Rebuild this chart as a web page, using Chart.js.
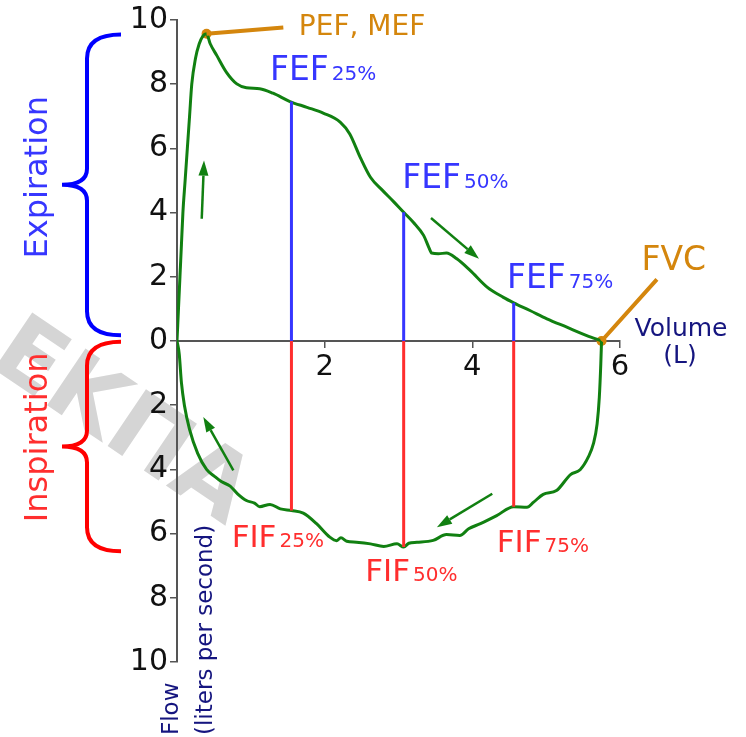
<!DOCTYPE html>
<html>
<head>
<meta charset="utf-8">
<script src="https://cdn.jsdelivr.net/npm/chart.js@4/dist/chart.umd.min.js"></script>
<style>
  body { margin: 0; background: #fff; }
  canvas { display: block; }
</style>
</head>
<body>
<canvas id="grafica" width="746" height="737"></canvas>
<script>
// volume in litres, flow in litres per second (expiration positive, inspiration negative)
const expVolume = [0, 0.02, 0.04, 0.06, 0.08, 0.11, 0.14, 0.17, 0.2, 0.25, 0.3, 0.35, 0.4,
  0.45, 0.54, 0.67, 0.81, 0.94, 1.12, 1.3, 1.53, 1.76, 1.98, 2.21, 2.34, 2.48, 2.62, 2.78, 2.93,
  3.07, 3.2, 3.34, 3.41, 3.45, 3.54, 3.65, 3.79, 3.97, 4.2, 4.42, 4.56, 4.78, 5.01, 5.28, 5.55, 5.75];
const expFlow = [0, 1, 2, 3, 4, 5, 6, 7, 8, 8.8, 9.25, 9.5, 9.57,
  9.26, 8.89, 8.37, 8.01, 7.89, 7.86, 7.72, 7.46, 7.28, 7.1, 6.82, 6.45, 5.73, 5.1, 4.7, 4.35,
  4.01, 3.7, 3.29, 2.92, 2.74, 2.72, 2.74, 2.56, 2.2, 1.68, 1.36, 1.19, 0.95, 0.69, 0.43, 0.17, 0];

const inspVolume = [0, 0.03, 0.06, 0.1, 0.17, 0.28, 0.4, 0.5, 0.6, 0.72, 0.82, 0.94, 1.05, 1.12,
  1.26, 1.4, 1.55, 1.71, 1.89, 2.07, 2.16, 2.22, 2.3, 2.43, 2.62, 2.8, 2.98, 3.07, 3.14, 3.25,
  3.47, 3.65, 3.83, 3.95, 4.11, 4.33, 4.56, 4.74, 4.83, 4.96, 5.14, 5.33, 5.46, 5.57, 5.64,
  5.69, 5.72, 5.74, 5.75];
const inspFlow = [0, -0.4, -1.3, -2.0, -2.75, -3.5, -4.0, -4.2, -4.38, -4.52, -4.76, -4.97, -5.05, -5.16,
  -5.09, -5.23, -5.28, -5.36, -5.69, -6.11, -6.22, -6.13, -6.24, -6.27, -6.32, -6.4, -6.32, -6.42, -6.3, -6.27,
  -6.21, -6.03, -6.06, -5.85, -5.69, -5.44, -5.16, -5.18, -5.02, -4.78, -4.66, -4.16, -4.01, -3.62, -3.2,
  -2.58, -1.75, -0.71, 0];

// FEF / FIF markers at 25%, 50%, 75%
const markVolume = [1.55, 3.07, 4.56];
const fefFlow = [7.46, 4.01, 1.19];
const fifFlow = [-5.28, -6.42, -5.16];
const markNames = ['25%', '50%', '75%'];

const pef = { volume: 0.4, flow: 9.57 };
const fvc = { volume: 5.75, flow: 0 };

const xTicks = [0, 2, 4, 6];
const yTicks = [-10, -8, -6, -4, -2, 0, 2, 4, 6, 8, 10];

const GREEN = '#118011';
const BLUE = '#3636ff';
const RED = '#ff2e2e';
const ORANGE = '#d4860d';
const NAVY = '#15157f';
const FONT = '"DejaVu Sans"';

function pts(xs, ys) {
  return xs.map((x, i) => ({ x: x, y: ys[i] }));
}

function splitLines(xs, ys) {
  const out = [];
  xs.forEach((x, i) => {
    out.push({ x: x, y: 0 }, { x: x, y: ys[i] }, { x: x, y: null });
  });
  return out;
}

// annotation anchors in data units (volume, flow)
const fefLabels = [[1.26, 8.14], [3.05, 4.77], [4.47, 1.66]];
const fifLabels = [[0.74, -6.42], [2.55, -7.49], [4.33, -6.58]];
const arrows = [
  [0.335, 3.81, 0.366, 5.62],
  [3.44, 3.83, 4.09, 2.56],
  [0.763, -4.03, 0.356, -2.37],
  [4.27, -4.76, 3.52, -5.8]
];

function subLabel(ctx, x, y, big, small, size, color) {
  ctx.fillStyle = color;
  ctx.textAlign = 'left';
  ctx.textBaseline = 'alphabetic';
  ctx.font = size + 'px ' + FONT;
  ctx.fillText(big, x, y);
  const w = ctx.measureText(big).width;
  ctx.font = '20px ' + FONT;
  ctx.fillText(small, x + w + 3, y);
}

function drawArrow(ctx, x1, y1, x2, y2) {
  const a = Math.atan2(y2 - y1, x2 - x1);
  const hl = 15, hw = 5;
  const bx = x2 - hl * Math.cos(a), by = y2 - hl * Math.sin(a);
  ctx.strokeStyle = GREEN;
  ctx.fillStyle = GREEN;
  ctx.lineWidth = 2.5;
  ctx.beginPath();
  ctx.moveTo(x1, y1);
  ctx.lineTo(bx, by);
  ctx.stroke();
  ctx.beginPath();
  ctx.moveTo(x2, y2);
  ctx.lineTo(bx + hw * Math.sin(a), by - hw * Math.cos(a));
  ctx.lineTo(bx - hw * Math.sin(a), by + hw * Math.cos(a));
  ctx.closePath();
  ctx.fill();
}

function drawBrace(ctx, yTop, yBot, color) {
  const xe = 121, xv = 87, xt = 62;
  const ym = (yTop + yBot) / 2;
  ctx.strokeStyle = color;
  ctx.lineWidth = 4;
  ctx.beginPath();
  ctx.moveTo(xe, yTop);
  ctx.quadraticCurveTo(xv, yTop, xv, yTop + 24);
  ctx.lineTo(xv, ym - 16);
  ctx.quadraticCurveTo(xv, ym, xt, ym);
  ctx.quadraticCurveTo(xv, ym, xv, ym + 16);
  ctx.lineTo(xv, yBot - 24);
  ctx.quadraticCurveTo(xv, yBot, xe, yBot);
  ctx.stroke();
}

function rotText(ctx, text, x, y, font, color, align) {
  ctx.save();
  ctx.translate(x, y);
  ctx.rotate(-Math.PI / 2);
  ctx.font = font;
  ctx.fillStyle = color;
  ctx.textAlign = align;
  ctx.textBaseline = 'alphabetic';
  ctx.fillText(text, 0, 0);
  ctx.restore();
}

const watermark = {
  id: 'watermark',
  beforeDraw(chart) {
    const ctx = chart.ctx;
    ctx.save();
    ctx.translate(120, 425);
    ctx.rotate(34 * Math.PI / 180);
    ctx.font = 'bold 94px ' + FONT;
    ctx.fillStyle = '#d5d5d5';
    ctx.textAlign = 'center';
    ctx.textBaseline = 'middle';
    ctx.fillText('ΕΚΠΑ', 0, 0);
    ctx.restore();
  }
};

const notes = {
  id: 'notes',
  afterDatasetsDraw(chart) {
    const ctx = chart.ctx;
    const sx = chart.scales.x, sy = chart.scales.y;
    const px = v => sx.getPixelForValue(v);
    const py = v => sy.getPixelForValue(v);
    ctx.save();

    fefLabels.forEach((p, i) => subLabel(ctx, px(p[0]), py(p[1]), 'FEF', markNames[i], 33, BLUE));
    fifLabels.forEach((p, i) => subLabel(ctx, px(p[0]), py(p[1]), 'FIF', markNames[i], 31, RED));

    ctx.fillStyle = ORANGE;
    ctx.textAlign = 'left';
    ctx.font = '28px ' + FONT;
    ctx.fillText('PEF, MEF', px(1.65), py(9.52));
    ctx.font = '33px ' + FONT;
    ctx.fillText('FVC', px(6.29), py(2.2));

    ctx.fillStyle = NAVY;
    ctx.textAlign = 'center';
    ctx.font = '25px ' + FONT;
    ctx.fillText('Volume', 681, py(0.15));
    ctx.fillText('(L)', 680, py(-0.7));

    rotText(ctx, 'Flow', 178, 735, '23px ' + FONT, NAVY, 'left');
    rotText(ctx, '(liters per second)', 212, 735, '23px ' + FONT, NAVY, 'left');

    arrows.forEach(a => drawArrow(ctx, px(a[0]), py(a[1]), px(a[2]), py(a[3])));

    drawBrace(ctx, py(9.55), py(0.18), '#0000ff');
    drawBrace(ctx, py(-0.02), py(-6.55), '#ff0000');
    rotText(ctx, 'Expiration', 47, py(5.1), '32px ' + FONT, BLUE, 'center');
    rotText(ctx, 'Inspiration', 47, py(-3.0), '32px ' + FONT, RED, 'center');

    ctx.restore();
  }
};

const ctx = document.getElementById('grafica').getContext('2d');
const grafica = new Chart(ctx, {
  type: 'scatter',
  data: {
    datasets: [
      {
        data: splitLines(markVolume, fefFlow),
        showLine: true, spanGaps: false,
        borderColor: BLUE, borderWidth: 3, pointRadius: 0
      },
      {
        data: splitLines(markVolume, fifFlow),
        showLine: true, spanGaps: false,
        borderColor: RED, borderWidth: 3, pointRadius: 0
      },
      {
        data: [{ x: pef.volume, y: pef.flow }, { x: 1.44, y: 9.77 }, { x: null, y: null },
               { x: fvc.volume, y: fvc.flow }, { x: 6.5, y: 1.92 }],
        showLine: true, spanGaps: false, clip: false,
        borderColor: ORANGE, borderWidth: 4, pointRadius: 0
      },
      {
        data: pts(expVolume, expFlow),
        showLine: true, cubicInterpolationMode: 'monotone',
        borderColor: GREEN, borderWidth: 3, pointRadius: 0
      },
      {
        data: pts(inspVolume, inspFlow),
        showLine: true, cubicInterpolationMode: 'monotone',
        borderColor: GREEN, borderWidth: 3, pointRadius: 0
      },
      {
        data: [{ x: pef.volume, y: pef.flow }, { x: fvc.volume, y: fvc.flow }],
        showLine: false, clip: false,
        pointRadius: 5, pointBackgroundColor: ORANGE, pointBorderWidth: 0
      }
    ]
  },
  options: {
    responsive: false,
    animation: false,
    layout: { padding: { top: 19, right: 126, bottom: 75, left: 0 } },
    plugins: { legend: { display: false }, tooltip: { enabled: false } },
    scales: {
      x: {
        type: 'linear',
        position: { y: 0 },
        min: 0, max: 6,
        afterBuildTicks: s => { s.ticks = xTicks.map(v => ({ value: v })); },
        afterFit: s => { s.height = 0; },
        ticks: {
          callback: v => (v === 0 ? '' : v),
          color: '#111', padding: 3,
          font: { family: 'DejaVu Sans', size: 29 }
        },
        grid: { drawOnChartArea: false, tickLength: 6, color: '#555', lineWidth: 1.5 },
        border: { color: '#555', width: 2 }
      },
      y: {
        type: 'linear',
        position: 'left',
        min: -10, max: 10,
        afterBuildTicks: s => { s.ticks = yTicks.map(v => ({ value: v })); },
        afterFit: s => { s.width = 177; },
        ticks: {
          callback: v => Math.abs(v),
          color: '#111', padding: 2,
          font: { family: 'DejaVu Sans', size: 30 }
        },
        grid: { drawOnChartArea: false, tickLength: 7, color: '#555', lineWidth: 1.5 },
        border: { color: '#555', width: 2 }
      }
    }
  },
  plugins: [watermark, notes]
});
</script>
</body>
</html>
